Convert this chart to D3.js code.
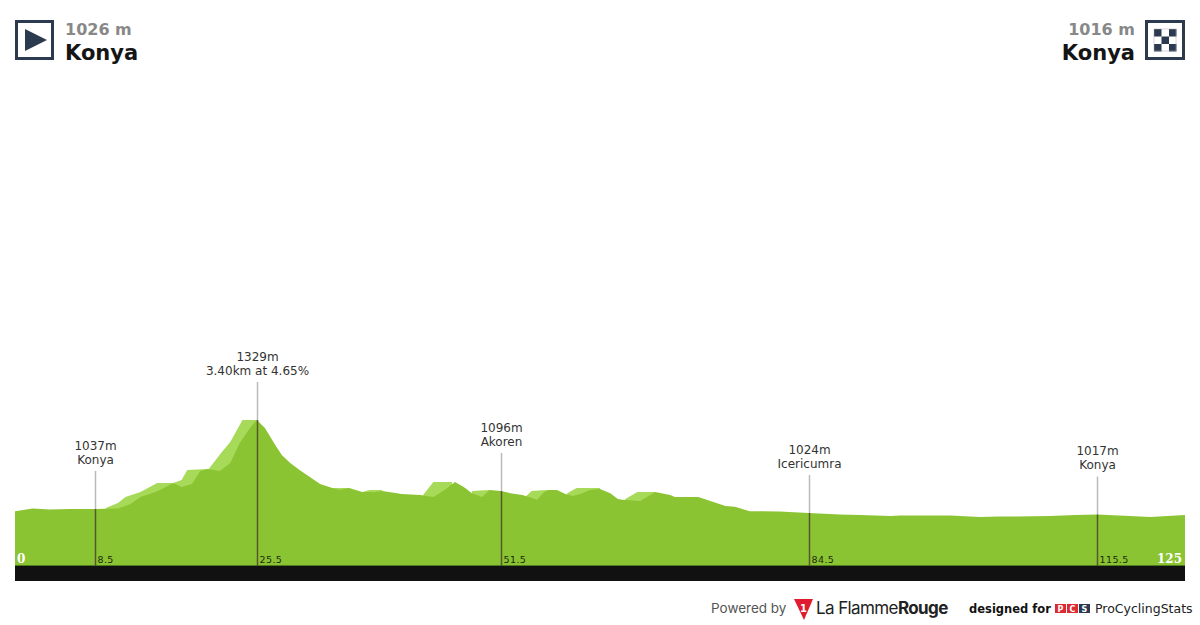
<!DOCTYPE html>
<html>
<head>
<meta charset="utf-8">
<script src="https://d3js.org/d3.v7.min.js"></script>
<style>
html, body { margin: 0; padding: 0; background: #fff; }
svg { display: block; }
text { font-family: "DejaVu Sans", sans-serif; }
</style>
</head>
<body>
<svg id="chart" width="1200" height="625"></svg>
<script>
// profile: km and metres
var profileKm = [0, 1.9, 3.7, 5.9, 8.5, 11, 12.3, 13.4, 14.4, 15.5, 16.9, 17.8, 18.9, 19.8, 20.6, 21.9, 23, 24, 25.1, 25.85,
  26.7, 27.8, 28.5, 29.4, 30.4, 31.5, 32.6, 33.9, 34.7, 35.7, 37.1, 38.5, 39.2, 40.3, 41.3, 43.3, 44.7, 45.9, 47, 47.8, 48.1,
  48.8, 49.9, 50.7, 51.9, 52.9, 54.2, 55.8, 56.4, 56.9, 57.9, 58.8, 59.6, 60.4, 61.4, 62.5, 63.6, 64.4, 64.9, 66.8, 68.4,
  70, 70.5, 73, 74.3, 75.9, 76.9, 78.5, 81.7, 84.8, 88.1, 90.3, 93.5, 94.6, 99.9, 103.1, 105.2, 110.6, 113.3, 115.6, 119.1, 121.3, 125];
var profileEle = [1030, 1039, 1035, 1037, 1037, 1039, 1053, 1076, 1086, 1099, 1122, 1109, 1119, 1162, 1168, 1162, 1188, 1253, 1303, 1329,
  1303, 1247, 1214, 1188, 1165, 1142, 1119, 1106, 1099, 1106, 1093, 1093, 1096, 1091, 1086, 1083, 1076, 1099, 1126, 1112, 1106,
  1089, 1076, 1099, 1096, 1089, 1083, 1067, 1089, 1099, 1099, 1086, 1080, 1086, 1099, 1103, 1089, 1070, 1067, 1063, 1093,
  1083, 1076, 1076, 1063, 1047, 1044, 1030, 1029, 1024, 1019, 1017, 1014, 1016, 1016, 1011, 1012, 1014, 1017, 1019, 1014, 1011, 1017];

// lighter patches behind the profile, null splits them
var lightKm = [9.7, 11, 11.8, 13.4, 15.2, 16.9, 17.8, 18.4, 20.7, 22.1, 23, 24.3, 25.85, null,
  33.9, 35.7, null, 37.1, 37.9, 39.2, null, 43.6, 44.7, 46.7, null, 48.8, 50.7, null,
  54.5, 55.2, 56.8, null, 59, 60, 62.5, null, 65.2, 66.5, 68.4];
var lightEle = [1040, 1057, 1076, 1093, 1122, 1122, 1132, 1165, 1168, 1224, 1257, 1329, 1329, null,
  1106, 1106, null, 1093, 1099, 1099, null, 1083, 1126, 1126, null, 1096, 1099, null,
  1076, 1096, 1099, null, 1089, 1106, 1106, null, 1070, 1093, 1093];

var markerKm = [8.5, 25.85, 51.9, 84.8, 115.6];
var markerEle = [1037, 1329, 1096, 1024, 1019];
var markerKmLabels = ["8.5", "25.5", "51.5", "84.5", "115.5"];
var markerHeights = ["1037m", "1329m", "1096m", "1024m", "1017m"];
var markerNames = ["Konya", "3.40km at 4.65%", "Akoren", "Icericumra", "Konya"];

var startHeight = "1026 m", finishHeight = "1016 m";
var startName = "Konya", finishName = "Konya";
var totalKm = 125;

var navy = "#2c3a4f";
var svg = d3.select("#chart");

var x = d3.scaleLinear().domain([0, totalKm]).range([15, 1185]);
var y = d3.scaleLinear().domain([850, 1329]).range([566, 420]);

var area = d3.area()
  .defined(function(d) { return d[0] !== null; })
  .x(function(d) { return x(d[0]); })
  .y0(y(850))
  .y1(function(d) { return y(d[1]); });

svg.append("path")
  .datum(d3.zip(lightKm, lightEle))
  .attr("fill", "#a6da58")
  .attr("d", area);

svg.append("path")
  .datum(d3.zip(profileKm, profileEle))
  .attr("fill", "#8bc432")
  .attr("d", area);

// black road strip
svg.append("rect").attr("x", x(0)).attr("y", 566).attr("width", x(totalKm) - x(0)).attr("height", 15).attr("fill", "#111111");
svg.append("line").attr("x1", x(0)).attr("x2", x(totalKm)).attr("y1", 565.5).attr("y2", 565.5).attr("stroke", "#4f7a1e");

svg.append("text").attr("x", 17).attr("y", 563).attr("fill", "#fff")
  .style("font-family", "'DejaVu Serif', serif").style("font-weight", "bold").style("font-size", "12px").text("0");
svg.append("text").attr("x", 1182).attr("y", 563).attr("fill", "#fff").attr("text-anchor", "end")
  .style("font-family", "'DejaVu Serif', serif").style("font-weight", "bold").style("font-size", "12px").text(totalKm);

// markers: stem, km under it, label above
var stem = 38;
markerKm.forEach(function(km, i) {
  var px = Math.round(x(km)) + 0.5, py = y(markerEle[i]);
  svg.append("line").attr("x1", px).attr("x2", px).attr("y1", py - stem).attr("y2", py)
    .attr("stroke", "#bbbbbb").attr("stroke-width", 1.5);
  svg.append("line").attr("x1", px).attr("x2", px).attr("y1", py).attr("y2", 566)
    .attr("stroke", "#55582f").attr("stroke-width", 1.5);
  svg.append("text").attr("x", px + 2).attr("y", 563).attr("fill", "#1b2a0a")
    .style("font-size", "9.5px").style("letter-spacing", "0.4px").text(markerKmLabels[i]);
  svg.append("text").attr("x", px).attr("y", py - stem - 21).attr("text-anchor", "middle").attr("fill", "#333")
    .style("font-size", "12px").text(markerHeights[i]);
  svg.append("text").attr("x", px).attr("y", py - stem - 7).attr("text-anchor", "middle").attr("fill", "#333")
    .style("font-size", "12px").text(markerNames[i]);
});

// header start
svg.append("rect").attr("x", 16.5).attr("y", 21.5).attr("width", 36).attr("height", 37)
  .attr("fill", "#fff").attr("stroke", navy).attr("stroke-width", 3);
svg.append("path").attr("d", "M25,29 L47,40 L25,51 Z").attr("fill", navy);
svg.append("text").attr("x", 65).attr("y", 35).attr("fill", "#888")
  .style("font-weight", "bold").style("font-size", "16px").text(startHeight);
svg.append("text").attr("x", 65).attr("y", 60).attr("fill", "#151515")
  .style("font-weight", "bold").style("font-size", "21px").text(startName);

// header finish
svg.append("rect").attr("x", 1146.5).attr("y", 21.5).attr("width", 37).attr("height", 37)
  .attr("fill", "#fff").attr("stroke", navy).attr("stroke-width", 3);
d3.range(9).forEach(function(i) {
  if (i % 2 === 0) {
    svg.append("rect").attr("x", 1154 + (i % 3) * 7.5).attr("y", 29 + Math.floor(i / 3) * 7.5)
      .attr("width", 7.5).attr("height", 7.5).attr("fill", navy);
  }
});
svg.append("rect").attr("x", 1154).attr("y", 29).attr("width", 22).attr("height", 22).attr("fill", "none").attr("stroke", "#aab").attr("stroke-width", 0.5);
svg.append("text").attr("x", 1135).attr("y", 35).attr("text-anchor", "end").attr("fill", "#888")
  .style("font-weight", "bold").style("font-size", "16px").text(finishHeight);
svg.append("text").attr("x", 1135).attr("y", 60).attr("text-anchor", "end").attr("fill", "#151515")
  .style("font-weight", "bold").style("font-size", "21px").text(finishName);

// footer
svg.append("text").attr("x", 711).attr("y", 613).attr("fill", "#555")
  .style("font-family", "Inter, sans-serif").style("font-size", "13.5px").text("Powered by");
svg.append("path").attr("d", "M794,599 L813,599 L804,620 Z").attr("fill", "#e01b2f");
svg.append("text").attr("x", 803.5).attr("y", 612).attr("text-anchor", "middle").attr("fill", "#fff")
  .style("font-weight", "bold").style("font-size", "10px").text("1");
var lfr = svg.append("text").attr("x", 816).attr("y", 614).attr("fill", "#222")
  .style("font-family", "Inter, sans-serif").style("font-size", "17px").style("letter-spacing", "-0.6px");
lfr.append("tspan").text("La Flamme");
lfr.append("tspan").style("font-weight", "bold").text("Rouge");
svg.append("text").attr("x", 969).attr("y", 613).attr("fill", "#111")
  .style("font-weight", "bold").style("font-size", "11.5px").text("designed for");
["P", "C", "S"].forEach(function(c, i) {
  svg.append("rect").attr("x", 1055 + i * 12).attr("y", 604).attr("width", 11).attr("height", 9)
    .attr("fill", i < 2 ? "#dc2b32" : "#2c3a4f");
  svg.append("text").attr("x", 1060.5 + i * 12).attr("y", 612).attr("text-anchor", "middle").attr("fill", "#fff")
    .style("font-weight", "bold").style("font-size", "8px").text(c);
});
svg.append("text").attr("x", 1095).attr("y", 613).attr("fill", "#222")
  .style("font-size", "12.5px").text("ProCyclingStats");
</script>
</body>
</html>
